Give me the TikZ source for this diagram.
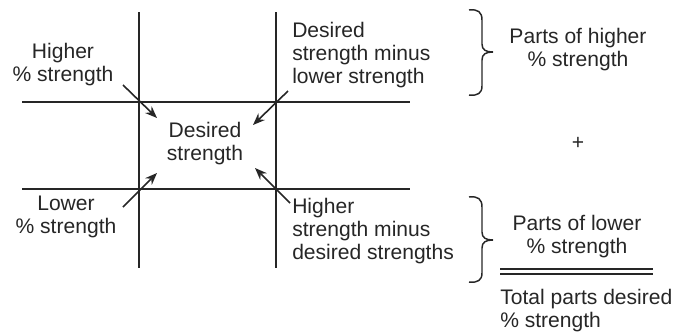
\documentclass[tikz,border=0pt]{standalone}
\usepackage{fontspec}
\setmainfont{Liberation Sans}
\usetikzlibrary{arrows.meta}
\begin{document}
\begin{tikzpicture}[x=0.75pt,y=-0.75pt,
  grid/.style={line width=1.4pt,draw=black!85},
  lbl/.style={font=\fontsize{15.8}{17.2}\selectfont,text=black!85,inner sep=0pt,align=center},
  lbll/.style={lbl,align=left,anchor=west},
  arr/.style={line width=1.2pt,draw=black!85,-{Stealth[length=9pt,width=7pt]}},
  brc/.style={line width=1.1pt,draw=black!85}]
\useasboundingbox (0,0) rectangle (676,333);
% grid lines
\coordinate (v1t) at (139,12); \coordinate (v1b) at (139,268);
\coordinate (v2t) at (276,12); \coordinate (v2b) at (276,268);
\coordinate (h1l) at (22,102); \coordinate (h1r) at (410,102);
\coordinate (h2l) at (22,189); \coordinate (h2r) at (410,189);
\draw[grid] (v1t) -- (v1b);
\draw[grid] (v2t) -- (v2b);
\draw[grid] (h1l) -- (h1r);
\draw[grid] (h2l) -- (h2r);
% labels
\node[lbl] (hi) at (63,65) {Higher\\\% strength};
\node[lbl] (des) at (205,144) {Desired\\strength};
\node[lbll] (dml) at (292,55) {Desired\\strength minus\\lower strength};
\node[lbl] (lo) at (66,217) {Lower\\\% strength};
\node[lbll] (hmd) at (292,231) {Higher\\strength minus\\desired strengths};
% arrows
\coordinate (a1s) at (123,85); \coordinate (a1e) at (157,118);
\coordinate (a2s) at (288,91); \coordinate (a2e) at (253,125);
\coordinate (a3s) at (123,207); \coordinate (a3e) at (157,173);
\coordinate (a4s) at (290,203); \coordinate (a4e) at (255,168);
\draw[arr] (a1s) -- (a1e);
\draw[arr] (a2s) -- (a2e);
\draw[arr] (a3s) -- (a3e);
\draw[arr] (a4s) -- (a4e);
% braces
\draw[brc] (469,10) .. controls (478,9) and (482,12) .. (482,20) -- (482,44)
  .. controls (482,50) and (486,52) .. (493,52)
  .. controls (486,52) and (482,54) .. (482,60) -- (482,86)
  .. controls (482,93) and (478,96) .. (469,95);
\draw[brc] (469,197) .. controls (478,196) and (482,199) .. (482,207) -- (482,232)
  .. controls (482,238) and (486,240) .. (493,240)
  .. controls (486,240) and (482,242) .. (482,248) -- (482,273)
  .. controls (482,280) and (478,283) .. (469,282);
% right texts
\node[lbl] (ph) at (578,50) {Parts of higher\\\% strength};
\node[lbl] (plus) at (578,143) {+};
\node[lbl] (pl) at (577,237) {Parts of lower\\\% strength};
\coordinate (d1l) at (500,269); \coordinate (d1r) at (653,269);
\coordinate (d2l) at (500,274); \coordinate (d2r) at (653,274);
\draw[line width=1.1pt,draw=black!85] (d1l) -- (d1r);
\draw[line width=1.1pt,draw=black!85] (d2l) -- (d2r);
\node[lbll] (tp) at (500,311) {Total parts desired\\\% strength};
\end{tikzpicture}
\end{document}
